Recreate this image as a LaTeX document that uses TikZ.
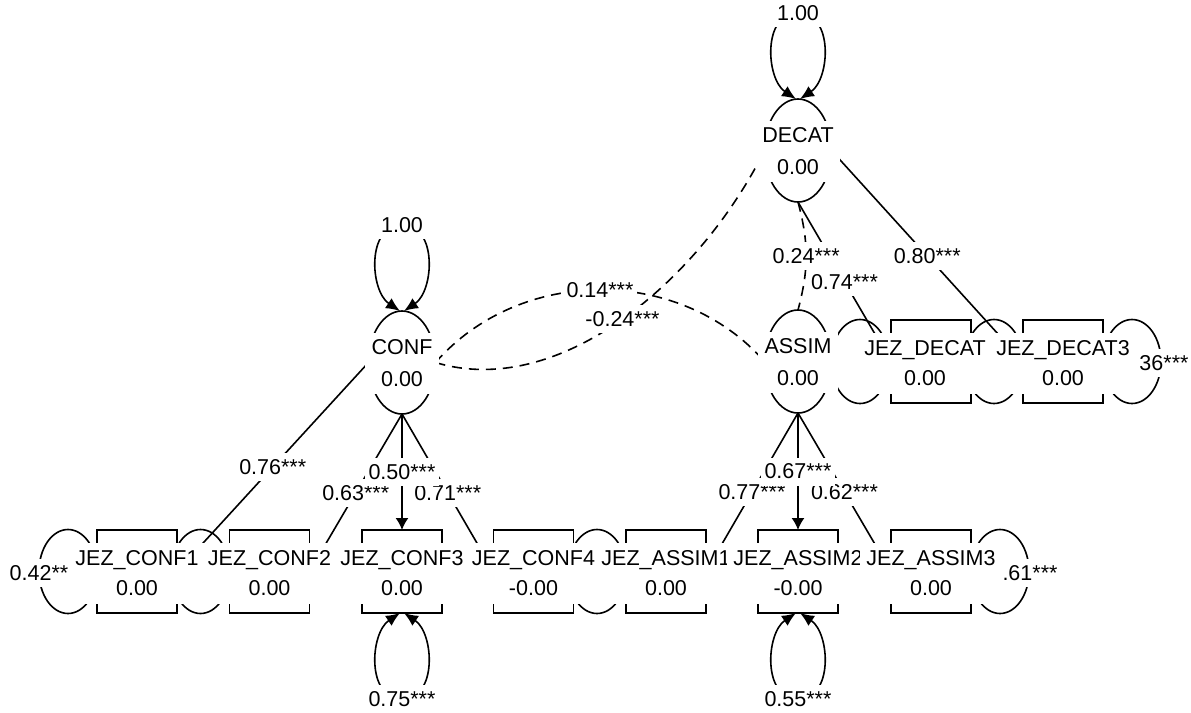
\documentclass[tikz,border=0pt]{standalone}
\usepackage{fontspec}
\setmainfont{Liberation Sans}
\usetikzlibrary{arrows.meta,shapes.geometric}
\pgfdeclarelayer{bg}
\pgfsetlayers{bg,main}
\begin{document}
\begin{tikzpicture}[x=0.5pt,y=-0.5pt,
  every node/.style={font=\fontsize{10.75pt}{15pt}\selectfont},
  latent/.style={ellipse, draw, line width=0.8pt, minimum width=33.5pt, minimum height=51.5pt, inner sep=0pt, outer sep=0pt},
  manifest/.style={rectangle, draw, line width=0.8pt, minimum width=40pt, minimum height=41.5pt, inner sep=0pt, outer sep=0pt},
  latmask/.style={fill=white, align=center, inner xsep=3.25pt, inner ysep=0pt, minimum height=30.5pt, font=\fontsize{10.75pt}{16pt}\selectfont},
  manmask/.style={fill=white, align=center, inner xsep=3pt, inner ysep=0pt, minimum height=30.5pt, font=\fontsize{10.75pt}{15pt}\selectfont},
  elab/.style={fill=white, inner xsep=2pt, inner ysep=0pt, minimum height=14pt},
  load/.style={line width=0.8pt, -{Latex[length=6pt,width=6.5pt]}},
  cov/.style={line width=0.8pt, dash pattern=on 5pt off 3.5pt},
  resid/.style={line width=0.8pt},
  loopar/.style={line width=0.8pt, {Latex[length=7pt,width=6pt]}-{Latex[length=7pt,width=6pt]}}
]
\useasboundingbox (0,0) rectangle (1191,713);

% latent variables
\node[latent] (CONF) at (402,362.5) {};
\node[latmask, yshift=-0.5pt] (CONFt) at (CONF) {CONF\\0.00};
\node[latent] (ASSIM) at (798,361.5) {};
\node[latmask, yshift=-0.5pt] (ASSIMt) at (ASSIM) {ASSIM\\0.00};
\node[latent] (DECAT) at (798,150.5) {};
\node[latmask, yshift=-0.5pt] (DECATt) at (DECAT) {DECAT\\0.00};

% manifest variables
\node[manifest] (C1) at (137,571.5) {};
\node[manmask, yshift=-1pt] (C1t) at (C1) {JEZ\_CONF1\\0.00};
\node[manifest] (C2) at (269.5,571.5) {};
\node[manmask, yshift=-1pt] (C2t) at (C2) {JEZ\_CONF2\\0.00};
\node[manifest] (C3) at (402,571.5) {};
\node[manmask, yshift=-1pt] (C3t) at (C3) {JEZ\_CONF3\\0.00};
\node[manifest] (C4) at (533.5,571.5) {};
\node[manmask, yshift=-1pt] (C4t) at (C4) {JEZ\_CONF4\\-0.00};
\node[manifest] (A1) at (666,571.5) {};
\node[manmask, yshift=-1pt] (A1t) at (A1) {JEZ\_ASSIM1\\0.00};
\node[manifest] (A2) at (798,571.5) {};
\node[manmask, yshift=-1pt] (A2t) at (A2) {JEZ\_ASSIM2\\-0.00};
\node[manifest] (A3) at (931,571.5) {};
\node[manmask, yshift=-1pt] (A3t) at (A3) {JEZ\_ASSIM3\\0.00};
\node[manifest] (D2) at (931,361.5) {};
\node[manmask, yshift=-1pt, xshift=-3pt] (D2t) at (D2) {JEZ\_DECAT\\0.00};
\node[manifest] (D3) at (1063,361.5) {};
\node[manmask, yshift=-1pt] (D3t) at (D3) {JEZ\_DECAT3\\0.00};

\begin{pgfonlayer}{bg}
\fill[white] (0,0) rectangle (1191,713);

% residual loops of indicators
\draw[resid] ([xshift=-14.5pt]C1.west) ellipse [x radius=29, y radius=42];
\draw[resid] ([xshift=-14.5pt]C2.west) ellipse [x radius=29, y radius=42];
\draw[resid] ([xshift=-14.5pt]A1.west) ellipse [x radius=29, y radius=42];
\draw[resid] ([xshift=14.5pt]A3.east) ellipse [x radius=29, y radius=42];
\draw[resid] ([xshift=-15.5pt]D2.west) ellipse [x radius=29, y radius=42];
\draw[resid] ([xshift=-14.5pt]D3.west) ellipse [x radius=29, y radius=42];
\draw[resid] ([xshift=14.5pt]D3.east) ellipse [x radius=29, y radius=42];

% variance loops
\draw[loopar] ([xshift=-1pt]CONF.north) .. controls +(-30,-20) and +(-36,0) .. ([yshift=43pt]CONF.north) coordinate (vCONF)
   .. controls +(36,0) and +(30,-20) .. ([xshift=1pt]CONF.north);
\draw[loopar] ([xshift=-1pt]DECAT.north) .. controls +(-30,-20) and +(-36,0) .. ([yshift=43pt]DECAT.north) coordinate (vDECAT)
   .. controls +(36,0) and +(30,-20) .. ([xshift=1pt]DECAT.north);
\draw[loopar] ([xshift=-1pt]C3.south) .. controls +(-30,20) and +(-36,0) .. ([yshift=-43pt]C3.south) coordinate (vC3)
   .. controls +(36,0) and +(30,20) .. ([xshift=1pt]C3.south);
\draw[loopar] ([xshift=-1pt]A2.south) .. controls +(-30,20) and +(-36,0) .. ([yshift=-43pt]A2.south) coordinate (vA2)
   .. controls +(36,0) and +(30,20) .. ([xshift=1pt]A2.south);

% loadings
\draw[load] (CONF.south) -- coordinate (m63) (C2.east);
\draw[load] (CONF.south) -- coordinate (m71) (C4.west);
\draw[load] (CONF.west) -- coordinate (m76) (C1.east);
\draw[load] (CONF.south) -- coordinate (m50) (C3.north);
\draw[load] (ASSIM.south) -- coordinate (m77) (A1.east);
\draw[load] (ASSIM.south) -- coordinate (m62) (A3.west);
\draw[load] (ASSIM.south) -- coordinate (m67) (A2.north);
\draw[load] (DECAT.east) -- coordinate (m80) (D3.west);
\draw[load] (DECAT.south) -- coordinate (m74) (D2.west);

% covariances
\draw[cov] (DECAT.south) to[bend left=15] coordinate (m24) (ASSIM.north);
\draw[cov] (CONF.east) .. controls +(84.5,-96.5) and +(-84.5,-96) .. coordinate (m14) (ASSIM.west);
\draw[cov] (CONF.east) .. controls +(124.5,37.5) and +(-64.5,129.5) .. coordinate (mn24) (DECAT.west);

% edge labels (drawn after all edges)
\node[elab] (l63) at (m63) {0.63***};
\node[elab] (l71) at (m71) {0.71***};
\node[elab] (l77) at (m77) {0.77***};
\node[elab] (l62) at (m62) {0.62***};
\node[elab] (l50) at (m50) {0.50***};
\node[elab] (l67) at (m67) {0.67***};
\node[elab] (l76) at (m76) {0.76***};
\node[elab] (l80) at (m80) {0.80***};
\node[elab] (l74) at (m74) {0.74***};
\node[elab] (l24) at (m24) {0.24***};
\node[elab] (l14) at (m14) {0.14***};
\node[elab] (ln24) at (mn24) {-0.24***};
\node[elab] (lvCONF) at (vCONF) {1.00};
\node[elab] (lvDECAT) at (vDECAT) {1.00};
\node[elab] (lvC3) at (vC3) {0.75***};
\node[elab] (lvA2) at (vA2) {0.55***};
\node[elab] (rC1) at ([xshift=-29pt,yshift=-0.75pt]C1.west) {0.42**};
\node[elab] (rA3) at ([xshift=29.5pt,yshift=-0.75pt]A3.east) {.61***};
\node[elab] (rD3) at ([xshift=30.5pt,yshift=-0.75pt]D3.east) {36***};
\end{pgfonlayer}
\end{tikzpicture}
\end{document}
